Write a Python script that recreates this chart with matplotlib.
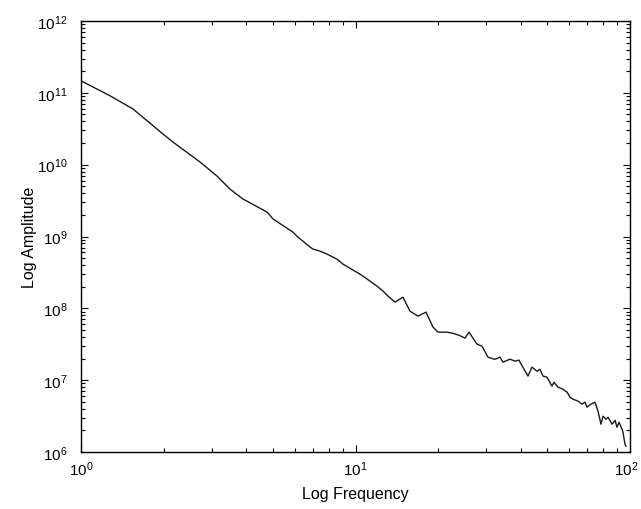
import math
import matplotlib
matplotlib.use("Agg")
import matplotlib.pyplot as plt
import matplotlib.transforms as mtransforms
from matplotlib.ticker import LogLocator, FuncFormatter, NullFormatter

plt.rcParams['font.family'] = ['Liberation Sans', 'DejaVu Sans']
plt.rcParams['mathtext.default'] = 'regular'

frequency = [1.0, 1.275, 1.547, 1.99, 2.164, 2.714, 3.13, 3.49, 3.89, 4.02, 4.76,
             5.01, 5.92, 6.12, 6.83, 7.00, 7.42, 7.87, 8.56, 9.00, 10.38, 10.65,
             11.97, 12.60, 13.14, 13.93, 14.89, 15.79, 16.89, 18.06, 19.16, 19.98,
             21.54, 22.6, 23.9, 25.05, 25.91, 27.71, 28.90, 30.38, 32.2,
             33.61, 34.45, 36.55, 38.12, 39.40, 41.10, 42.50, 43.95, 45.83, 47.00,
             48.20, 49.85, 51.97, 52.85, 54.66, 57.00, 58.96, 60.45, 61.99, 64.65,
             66.86, 68.56, 69.73, 72.10, 74.56, 76.45, 78.41, 79.74, 81.77, 83.17,
             86.00, 88.20, 89.69, 91.20, 93.52, 94.30, 95.9, 96.7]
amplitude = [1.47e11, 9.11e10, 5.95e10, 2.67e10, 2.06e10, 1.09e10, 6.94e9, 4.57e9,
             3.32e9, 3.11e9, 2.19e9, 1.75e9, 1.15e9, 1.01e9, 7.12e8, 6.68e8, 6.26e8,
             5.69e8, 4.84e8, 4.13e8, 2.99e8, 2.81e8, 2.04e8, 1.74e8, 1.48e8, 1.22e8,
             1.43e8, 9.14e7, 7.79e7, 8.85e7, 5.47e7, 4.66e7,
             4.66e7, 4.50e7, 4.20e7, 3.85e7, 4.66e7, 3.17e7, 2.97e7, 2.09e7, 1.95e7,
             2.09e7, 1.78e7, 1.96e7, 1.84e7, 1.90e7, 1.42e7, 1.14e7, 1.52e7, 1.33e7,
             1.42e7, 1.14e7, 1.10e7, 8.25e6, 9.38e6, 7.99e6, 7.49e6, 6.81e6, 5.80e6,
             5.44e6, 5.10e6, 4.63e6, 4.94e6, 4.21e6, 4.63e6, 4.94e6, 3.70e6, 2.44e6,
             3.15e6, 2.86e6, 3.05e6, 2.44e6, 2.77e6, 2.21e6, 2.60e6, 2.08e6, 1.89e6,
             1.28e6, 1.20e6]

fig = plt.figure(figsize=(6.41, 5.10), dpi=100)
ax = fig.add_axes([81/641, 1 - 453/510, (630 - 81)/641, (453 - 22)/510])
ax.loglog(frequency, amplitude, color='#1a1a1a', linewidth=1.0)
ax.set_xlim(1, 100)
ax.set_ylim(1e6, 1e12)

fmt = FuncFormatter(lambda v, p: r'$10^{%d}$' % round(math.log10(v)))
ax.xaxis.set_major_locator(LogLocator(base=10, numticks=10))
ax.yaxis.set_major_locator(LogLocator(base=10, numticks=10))
ax.xaxis.set_minor_locator(LogLocator(base=10, subs=range(2, 10), numticks=20))
ax.yaxis.set_minor_locator(LogLocator(base=10, subs=range(2, 10), numticks=20))
ax.xaxis.set_major_formatter(fmt)
ax.yaxis.set_major_formatter(fmt)
ax.xaxis.set_minor_formatter(NullFormatter())
ax.yaxis.set_minor_formatter(NullFormatter())
ax.tick_params(which='both', direction='in', top=True, right=True, labelsize=11)
ax.tick_params(which='major', length=5, width=0.8)
ax.tick_params(which='minor', length=3, width=0.8)
ax.tick_params(axis='x', pad=5)
ax.tick_params(axis='y', pad=10)
for s in ax.spines.values():
    s.set_linewidth(1.0)

ax.set_xlabel('Log Frequency', fontsize=11.5, labelpad=6)
ax.set_ylabel('Log Amplitude', fontsize=11.5, labelpad=0)

fig.canvas.draw()
shift = mtransforms.ScaledTranslation(-4/100, 0, fig.dpi_scale_trans)
for lbl in ax.get_xticklabels():
    if lbl.get_text() == r'$10^{2}$':
        lbl.set_transform(lbl.get_transform() + shift)

fig.savefig('out.png', dpi=100, facecolor='white')
